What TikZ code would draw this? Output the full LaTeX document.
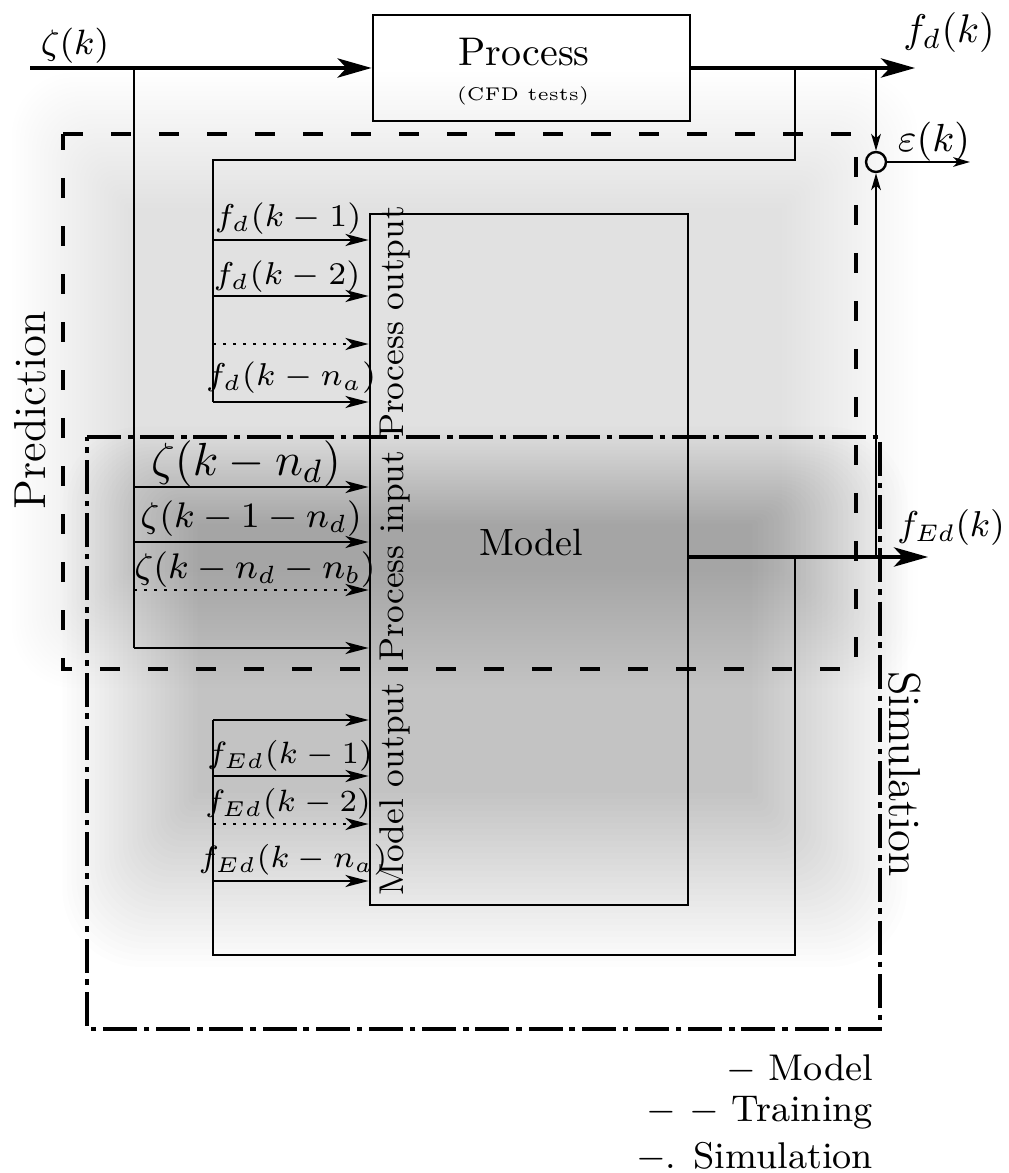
\RequirePackage{fix-cm}
\documentclass[tikz,border=0pt]{standalone}
\usetikzlibrary{arrows.meta}
\newcommand\myfs[1]{\fontsize{#1}{#1}\selectfont}
\begin{document}
\begin{tikzpicture}[x=0.25pt,y=-0.25pt,
  wire/.style={line width=0.6pt},
  sig/.style={line width=1pt},
  box/.style={draw, line width=0.7pt, inner sep=0pt},
  bigtip/.style={-{Stealth[length=8.5pt,width=4.8pt,inset=2.2pt]}},
  smalltip/.style={-{Stealth[length=5.8pt,width=3pt,inset=1.6pt]}},
  tinytip/.style={-{Stealth[length=4.2pt,width=2.4pt,inset=1.1pt]}},
  lab/.style={inner sep=0pt, outer sep=0pt},
  trainbox/.style={line width=0.95pt, dash pattern=on 5pt off 7pt},
  simbox/.style={line width=0.95pt, dash pattern=on 8.5pt off 1.7pt on 1.4pt off 1.7pt},
  dotline/.style={line width=0.65pt, dash pattern=on 0.7pt off 1.8pt},
]
\useasboundingbox (0,0) rectangle (1008,1173);
\fill[white] (0,0) rectangle (1008,1173);

% background shading: light (prediction) and dark (simulation) blurred regions
\foreach \i in {0,...,29}{
  \pgfmathsetmacro\t{1-2*(\i+0.5)/30}
  \pgfmathsetmacro\rc{max(0.1,(\t+1)*8)}
  \fill[black, fill opacity=0.00463, rounded corners=\rc pt]
    ({70-\t*60},{140-\t*70}) rectangle ({850+\t*70},{630+\t*60});
}
\foreach \i in {0,...,29}{
  \pgfmathsetmacro\t{1-2*(\i+0.5)/30}
  \pgfmathsetmacro\rc{max(0.1,(\t+1)*10)}
  \fill[black, fill opacity=0.0094, rounded corners=\rc pt]
    ({130-\t*70},{475-\t*50}) rectangle ({830+\t*80},{880+\t*90});
}

% boxes
\node[box, minimum width=79.25pt, minimum height=26.5pt] (proc) at (531.5,68) {};
\node[lab, anchor=base, font=\myfs{10}] (proct) at (524,66) {Process};
\node[lab, anchor=base, font=\myfs{4.6}] (cfd) at (523,101) {(CFD tests)};
\node[box, minimum width=79.5pt, minimum height=172.75pt] (model) at (529,559.5) {};
\node[lab, anchor=base, font=\myfs{9.5}] (modelt) at (531,556) {Model};
\node[circle, draw, line width=0.6pt, minimum size=5pt, inner sep=0pt] (sum) at (876,162) {};

% region frames
\draw[trainbox] (63,134) -- (856,134) -- (856,669) -- (63,669) -- cycle;
\draw[simbox] (87,437) -- (880,437) -- (880,1029) -- (87,1029) -- cycle;

% coordinates
\coordinate (zin) at (30,68);
\coordinate (zsplit) at (134,68);
\coordinate (zbot) at (134,648);
\coordinate (fdend) at (915,68);
\coordinate (fsplitA) at (795,68);
\coordinate (fsplitB) at (876,68);
\coordinate (fbA) at (795,160);
\coordinate (fbB) at (213,160);
\coordinate (fbC) at (213,402);
\coordinate (epsend) at (970,162);
\coordinate (mout) at (688,557);
\coordinate (mend) at (928,557);
\coordinate (msplitA) at (795,557);
\coordinate (msplitB) at (876,557);
\coordinate (mbA) at (795,955);
\coordinate (mbB) at (213,955);
\coordinate (mbC) at (213,720);

% main signals
\draw[sig, bigtip] (zin) -- (proc.west);
\draw[sig, bigtip] (proc.east) -- (fdend);
\draw[wire] (zsplit) -- (zbot);
\draw[wire] (fsplitA) -- (fbA) -- (fbB) -- (fbC);
\draw[wire, tinytip] (fsplitB) -- (sum.north);
\draw[line width=0.5pt, tinytip] (sum.east) -- (epsend);
\draw[wire, tinytip] (msplitB) -- (sum.south);
\draw[sig, bigtip] (mout) -- (mend);
\draw[wire] (msplitA) -- (mbA) -- (mbB) -- (mbC);

% regressor arrows
\foreach \y/\n in {240/a,296/b,402/d}{
  \coordinate (po\n) at (213,\y);
  \draw[wire, smalltip] (po\n) -- (po\n -| model.west);
}
\coordinate (poc) at (213,344);
\draw[dotline, smalltip] (poc) -- (poc -| model.west);

\foreach \y/\n in {487/a,542/b,648/d}{
  \coordinate (pi\n) at (134,\y);
  \draw[wire, smalltip] (pi\n) -- (pi\n -| model.west);
}
\coordinate (pic) at (134,590);
\draw[dotline, smalltip] (pic) -- (pic -| model.west);

\foreach \y/\n in {720/a,776/b,881/d}{
  \coordinate (mo\n) at (213,\y);
  \draw[wire, smalltip] (mo\n) -- (mo\n -| model.west);
}
\coordinate (moc) at (213,824);
\draw[dotline, smalltip] (moc) -- (moc -| model.west);

% signal labels
\node[lab, font=\myfs{8.8}] (zk) at (75,46) {$\zeta(k)$};
\node[lab, font=\myfs{10}] (fdk) at (949,33) {$f_d(k)$};
\node[lab, font=\myfs{9.8}] (epsk) at (934,142) {$\varepsilon(k)$};
\node[lab, font=\myfs{9}] (fedk) at (951,528) {$f_{Ed}(k)$};

\node[lab, font=\myfs{7.9}] (l1) at (288,219) {$f_d(k-1)$};
\node[lab, font=\myfs{7.9}] (l2) at (287,277) {$f_d(k-2)$};
\node[lab, font=\myfs{7.9}] (l3) at (291,378) {$f_d(k-n_a)$};
\node[lab, font=\myfs{11.6}] (l4) at (246,464) {$\zeta(k-n_d)$};
\node[lab, font=\myfs{8.9}] (l5) at (251,519) {$\zeta(k-1-n_d)$};
\node[lab, font=\myfs{8.9}] (l6) at (255,570) {$\zeta(k-n_d-n_b)$};
\node[lab, font=\myfs{7.7}] (l7) at (290,756) {$f_{Ed}(k-1)$};
\node[lab, font=\myfs{7.7}] (l8) at (288,804) {$f_{Ed}(k-2)$};
\node[lab, font=\myfs{7.7}] (l9) at (293,860) {$f_{Ed}(k-n_a)$};

% vertical labels
\node[lab, rotate=90, font=\myfs{8.6}] (vpo) at (395,322) {Process output};
\node[lab, rotate=90, font=\myfs{8.6}] (vpi) at (395,556) {Process input};
\node[lab, rotate=90, font=\myfs{8.6}] (vmo) at (395,789) {Model output};
\node[lab, rotate=90, font=\myfs{11.2}] (pred) at (30,410) {Prediction};
\node[lab, rotate=-90, font=\myfs{11.2}] (simu) at (905,774) {Simulation};

% legend
\node[lab, anchor=base east, font=\myfs{9.3}] (lg1) at (873,1080) {$-$ Model};
\node[lab, anchor=base east, font=\myfs{9.3}] (lg2) at (873,1121) {$-$ $-$ Training};
\node[lab, anchor=base east, font=\myfs{9.3}] (lg3) at (873,1168) {$-$. Simulation};
\end{tikzpicture}
\end{document}
